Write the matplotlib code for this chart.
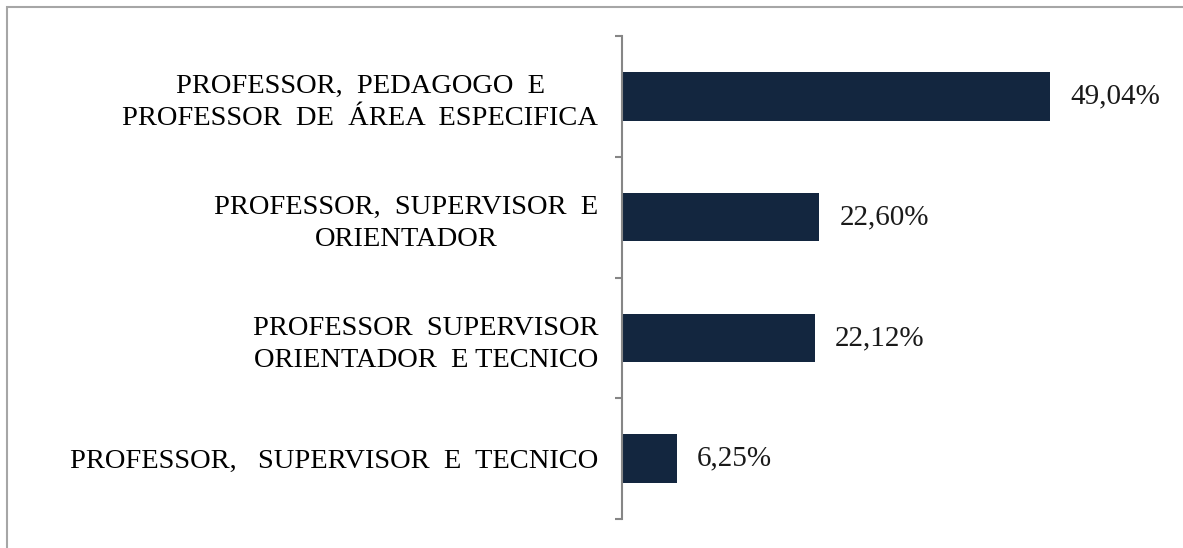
import matplotlib.pyplot as plt
from matplotlib.patches import Rectangle
import numpy as np

categories = [
    "PROFESSOR,  PEDAGOGO  E\nPROFESSOR  DE  ÁREA  ESPECIFICA",
    "PROFESSOR,  SUPERVISOR  E\nORIENTADOR",
    "PROFESSOR  SUPERVISOR\nORIENTADOR  E TECNICO",
    "PROFESSOR,   SUPERVISOR  E  TECNICO",
]
values = [49.04, 22.60, 22.12, 6.25]

plt.rcParams['font.family'] = ['Liberation Serif', 'DejaVu Serif']

W, H = 1183, 548
fig = plt.figure(figsize=(W / 100, H / 100), dpi=100)

# outer frame (only top and left edges are visible in the crop)
fig.patches.append(Rectangle((7 / W, -0.5), 2, 0.5 + 1 - 7 / H, transform=fig.transFigure,
                             fill=False, edgecolor="#a6a6a6", linewidth=1.5))

ax = fig.add_axes([622 / W, 1 - 519 / H, 480 / W, 483 / H])
y = np.arange(len(categories))
ax.barh(y, values, height=0.4, color="#13263f")

ax.set_ylim(len(categories) - 0.5, -0.5)
ax.set_xlim(0, 55)

for yi, v in zip(y, values):
    ax.text(v + 2.3, yi, f"{v:.2f}".replace('.', ',') + "%", va="center", ha="left",
            fontsize=21, color="#1a1a1a")

ax.set_yticks(y)
ax.set_yticklabels(categories, fontsize=20.5, multialignment="center", linespacing=1.36)
ax.tick_params(axis='y', which='major', length=0, pad=17)
ax.set_yticks(np.arange(len(categories) + 1) - 0.5, minor=True)
ax.tick_params(axis='y', which='minor', length=5, width=1.5, color="#868686")
ax.set_xticks([])

for s in ["top", "right", "bottom"]:
    ax.spines[s].set_visible(False)
ax.spines["left"].set_color("#868686")
ax.spines["left"].set_linewidth(1.5)

fig.savefig("out.png", dpi=100)
